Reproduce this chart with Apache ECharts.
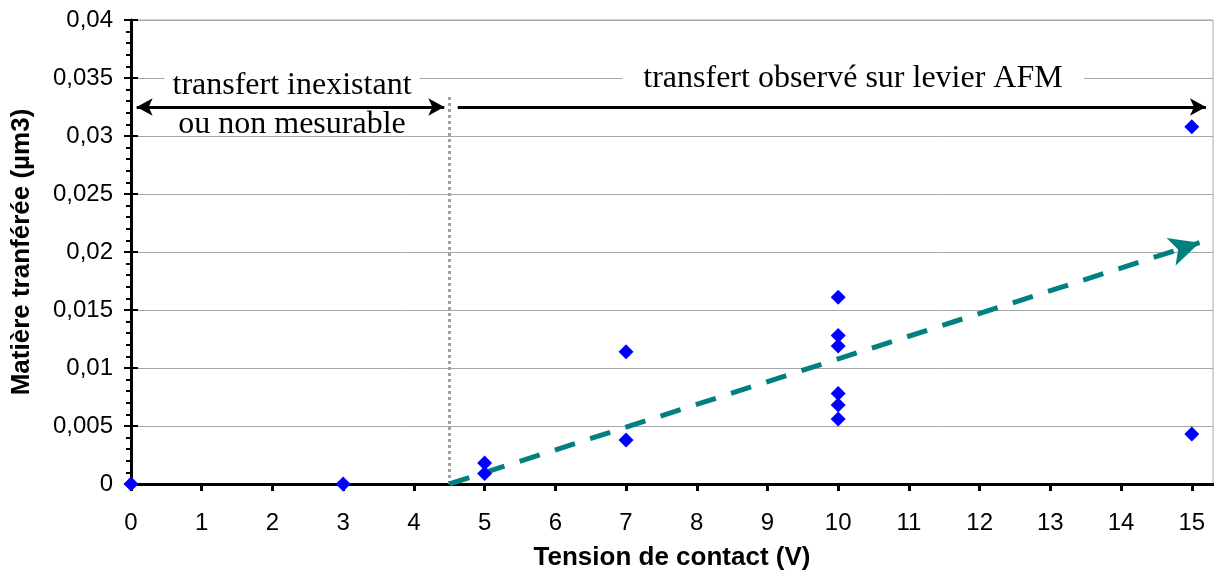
<!DOCTYPE html>
<html>
<head>
<meta charset="utf-8">
<script src="https://cdn.jsdelivr.net/npm/echarts@6/dist/echarts.min.js"></script>
<style>html,body{margin:0;padding:0;background:#fff}#c{width:1214px;height:573px}</style>
</head>
<body>
<div id="c"></div>
<script>
// ---- data ----
const xValues = [0, 3, 5, 5, 7, 7, 10, 10, 10, 10, 10, 10, 15, 15];
const yValues = [0, 0, 0.0018, 0.0009, 0.0114, 0.0038, 0.0161, 0.0128, 0.0119, 0.0078, 0.0068, 0.0056, 0.0308, 0.0043];
const xTicks = [0, 1, 2, 3, 4, 5, 6, 7, 8, 9, 10, 11, 12, 13, 14, 15];
const yTickLabels = ['0', '0,005', '0,01', '0,015', '0,02', '0,025', '0,03', '0,035', '0,04'];
const trendStart = [4.5, 0];
const trendEnd = [15.11, 0.0208];
const separatorX = 4.5;
const separatorTop = 0.0335;
const arrowY = 0.0325;
const leftArrow = [0.08, 4.43];
const rightArrow = [4.62, 15.2];
const xTitle = 'Tension de contact (V)';
const yTitle = 'Matière tranférée (µm3)';
const leftText1 = 'transfert inexistant';
const leftText2 = 'ou non mesurable';
const rightText = 'transfert observé sur levier AFM';

const points = xValues.map((x, i) => [x, yValues[i]]);
const SANS = 'Liberation Sans, Arial, sans-serif';
const SERIF = 'Liberation Serif, Times New Roman, serif';

const chart = echarts.init(document.getElementById('c'), null, {renderer: 'canvas'});
chart.setOption({
  animation: false,
  backgroundColor: '#fff',
  grid: {left: 131, right: 1, top: 20, bottom: 89, containLabel: false, outerBoundsMode: 'none',
    show: true, borderColor: '#a6a6a6', borderWidth: 1},
  xAxis: {
    type: 'value', min: 0, max: 15.3, interval: 1,
    name: xTitle, nameLocation: 'middle', nameGap: 61,
    nameTextStyle: {fontFamily: SANS, fontWeight: 'bold', fontSize: 26, color: '#000'},
    axisLine: {lineStyle: {color: '#000', width: 3}},
    axisTick: {show: true, length: 7, lineStyle: {color: '#000', width: 3}, customValues: xTicks},
    axisLabel: {fontFamily: SANS, fontSize: 24, color: '#000', margin: 27, customValues: xTicks},
    splitLine: {show: false}
  },
  yAxis: [{
    type: 'value', min: 0, max: 0.04, interval: 0.005,
    name: yTitle, nameLocation: 'middle', nameGap: 96,
    nameTextStyle: {fontFamily: SANS, fontWeight: 'bold', fontSize: 26, color: '#000'},
    axisLine: {lineStyle: {color: '#000', width: 3}},
    axisTick: {length: 7, lineStyle: {color: '#000', width: 2}},
    minorTick: {show: true, splitNumber: 5, length: 5, lineStyle: {color: '#000', width: 2}},
    axisLabel: {fontFamily: SANS, fontSize: 24, color: '#000', margin: 18,
      formatter: (v) => yTickLabels[Math.round(v / 0.005)]},
    splitLine: {show: true, lineStyle: {color: '#a6a6a6', width: 1}}
  }, {
    type: 'value', min: 0, max: 0.04, interval: 0.005, position: 'left',
    axisLine: {show: false},
    axisTick: {show: true, inside: true, length: 7, lineStyle: {color: '#000', width: 2}},
    axisLabel: {show: false},
    splitLine: {show: false}
  }],
  graphic: [
    {type: 'text', z: 3, style: {text: leftText1, x: 292, y: 86, align: 'center', verticalAlign: 'middle',
      font: '32px ' + SERIF, fill: '#000', backgroundColor: '#fff', padding: [2, 8]}},
    {type: 'text', z: 3, style: {text: leftText2, x: 292, y: 125, align: 'center', verticalAlign: 'middle',
      font: '32px ' + SERIF, fill: '#000'}},
    {type: 'text', z: 3, style: {text: rightText, x: 853, y: 79, align: 'center', verticalAlign: 'middle',
      font: '32px ' + SERIF, fill: '#000', backgroundColor: '#fff', padding: [2, 21]}}
  ],
  series: [{
    type: 'scatter', z: 10, clip: false,
    symbol: 'diamond', symbolSize: 15,
    itemStyle: {color: '#0000ff', opacity: 1},
    data: points,
    markLine: {
      silent: true, animation: false, z: 9,
      label: {show: false},
      data: [
        [{coord: [separatorX, 0], symbol: 'none', lineStyle: {color: '#a0a0a0', width: 3, type: [3, 3]}},
         {coord: [separatorX, separatorTop], symbol: 'none'}],
        [{coord: [leftArrow[0], arrowY], symbol: 'arrow', symbolSize: [13, 16], lineStyle: {color: '#000', width: 3, type: 'solid'}},
         {coord: [leftArrow[1], arrowY], symbol: 'arrow', symbolSize: [13, 16]}],
        [{coord: [rightArrow[0], arrowY], symbol: 'none', lineStyle: {color: '#000', width: 3, type: 'solid'}},
         {coord: [rightArrow[1], arrowY], symbol: 'arrow', symbolSize: [13, 16]}],
        [{coord: trendStart, symbol: 'none', lineStyle: {color: '#008080', width: 5, type: [21, 16]}},
         {coord: trendEnd, symbol: 'arrow', symbolSize: [22, 30]}]
      ]
    }
  }]
});
</script>
</body>
</html>
